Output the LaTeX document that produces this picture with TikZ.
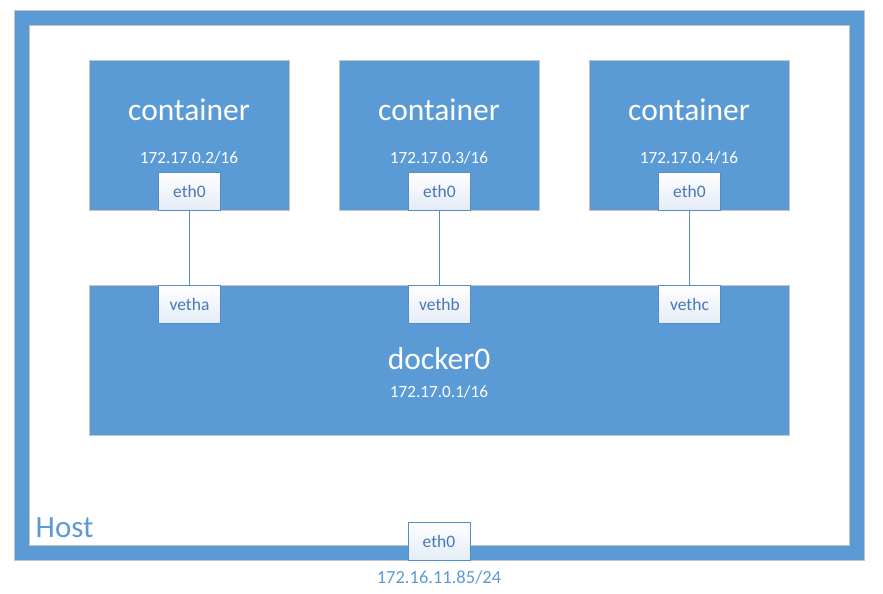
\documentclass[tikz,border=0pt]{standalone}
\usepackage{fontspec}
\setmainfont{Carlito}
\usetikzlibrary{positioning}
\definecolor{officeblue}{RGB}{91,155,213}
\definecolor{edgegray}{RGB}{196,196,196}
\definecolor{portline}{RGB}{84,141,200}
\definecolor{porttext}{RGB}{72,120,184}
\definecolor{portshade}{RGB}{228,236,246}
\tikzset{
	bigbox/.style={draw=edgegray, line width=0.8pt, fill=officeblue, inner sep=0pt},
	portbox/.style={draw=portline, line width=1pt, top color=white, bottom color=portshade,
		minimum width=62, minimum height=38, inner sep=0pt, text=porttext, font=\fontsize{17.5}{20}\selectfont},
	bigtext/.style={text=white, inner sep=0pt, anchor=base, font=\fontsize{31.5}{36}\selectfont},
	iptext/.style={text=white, inner sep=0pt, anchor=base, font=\fontsize{17.2}{20}\selectfont},
	link/.style={draw=portline, line width=1.6pt}
}
\begin{document}
\begin{tikzpicture}[x=1pt, y=-1pt]
	%%%%% START %%%%%
	\useasboundingbox (0,0) rectangle (883,594);
	
	% host frame
	\draw[line width=15pt, draw=officeblue] (21.5,17.5) rectangle (856.5,552.5);
	\draw[edgegray, line width=0.7pt] (14,10) rectangle (864,560);
	\draw[edgegray, line width=0.7pt] (29,25) rectangle (849,545);
	\node[text=officeblue, inner sep=0pt, anchor=base west, font=\fontsize{31}{34}\selectfont] (hostlabel) at (35.5,537) {Host};
	
	% containers
	\node[bigbox, minimum width=200, minimum height=150] (ctA) at (189,135) {};
	\node[bigtext] (ctAname) at (189,120) {container};
	\node[iptext] (ctAip) at (189,163) {172.17.0.2/16};
	\node[portbox] (ethA) at (189.5,191) {eth0};
	
	\node[bigbox, minimum width=200, minimum height=150] (ctB) at (439,135) {};
	\node[bigtext] (ctBname) at (439,120) {container};
	\node[iptext] (ctBip) at (439,163) {172.17.0.3/16};
	\node[portbox] (ethB) at (439.5,191) {eth0};
	
	\node[bigbox, minimum width=200, minimum height=150] (ctC) at (689,135) {};
	\node[bigtext] (ctCname) at (689,120) {container};
	\node[iptext] (ctCip) at (689,163) {172.17.0.4/16};
	\node[portbox] (ethC) at (689.5,191) {eth0};
	
	% bridge
	\node[bigbox, minimum width=700, minimum height=150] (bridge) at (439,360) {};
	\node[bigtext] (bridgename) at (439,369) {docker0};
	\node[iptext] (bridgeip) at (439,397.5) {172.17.0.1/16};
	\node[portbox] (vethA) at (189.5,304) {vetha};
	\node[portbox] (vethB) at (439.5,304) {vethb};
	\node[portbox] (vethC) at (689.5,304) {vethc};
	
	\draw[link] (ethA) -- (vethA);
	\draw[link] (ethB) -- (vethB);
	\draw[link] (ethC) -- (vethC);
	
	% host nic
	\node[portbox] (hosteth) at (439,541) {eth0};
	\node[text=officeblue, inner sep=0pt, anchor=base, font=\fontsize{18.5}{21}\selectfont] (hostip) at (439,583) {172.16.11.85/24};
	
	%%%%% END %%%%%
\end{tikzpicture}
\end{document}
